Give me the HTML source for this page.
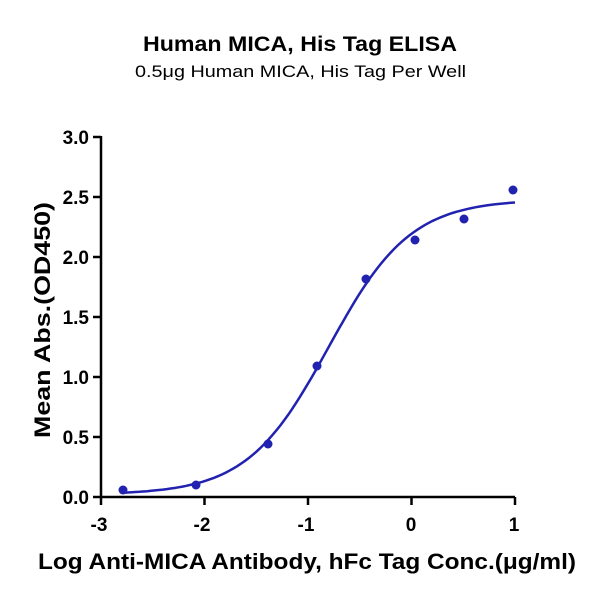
<!DOCTYPE html>
<html><head><style>
body{margin:0;background:#fff;}
svg text{font-family:"Liberation Sans",Arial,sans-serif;}
</style></head><body>
<svg id="s" width="600" height="600" xmlns="http://www.w3.org/2000/svg">
<text x="143" y="51" textLength="314" lengthAdjust="spacingAndGlyphs" font-size="21" font-weight="bold">Human MICA, His Tag ELISA</text>
<text x="135" y="77" textLength="331" lengthAdjust="spacingAndGlyphs" font-size="17">0.5μg Human MICA, His Tag Per Well</text>
<g stroke="#000" stroke-width="2.5" fill="none">
<line x1="101" y1="136" x2="101" y2="497"/>
<line x1="100" y1="497" x2="515" y2="497"/>
<line x1="93" y1="137" x2="101" y2="137"/>
<line x1="93" y1="197" x2="101" y2="197"/>
<line x1="93" y1="257" x2="101" y2="257"/>
<line x1="93" y1="317" x2="101" y2="317"/>
<line x1="93" y1="377" x2="101" y2="377"/>
<line x1="93" y1="437" x2="101" y2="437"/>
<line x1="93" y1="497" x2="101" y2="497"/>
<line x1="101" y1="497" x2="101" y2="505"/>
<line x1="204.5" y1="497" x2="204.5" y2="505"/>
<line x1="308" y1="497" x2="308" y2="505"/>
<line x1="411.5" y1="497" x2="411.5" y2="505"/>
<line x1="515" y1="497" x2="515" y2="505"/>
</g>
<g font-size="19" font-weight="bold" text-anchor="end">
<text x="89" y="144">3.0</text><text x="89" y="204">2.5</text><text x="89" y="264">2.0</text>
<text x="89" y="324">1.5</text><text x="89" y="384">1.0</text><text x="89" y="444">0.5</text><text x="89" y="504">0.0</text>
</g>
<g font-size="19" font-weight="bold" text-anchor="middle">
<text x="99" y="531">-3</text><text x="202" y="531">-2</text><text x="306" y="531">-1</text><text x="411" y="531">0</text><text x="514" y="531">1</text>
</g>
<text x="38" y="569" textLength="538" lengthAdjust="spacingAndGlyphs" font-size="22" font-weight="bold">Log Anti-MICA Antibody, hFc Tag Conc.(μg/ml)</text>
<text transform="translate(50,438) rotate(-90)" textLength="236" lengthAdjust="spacingAndGlyphs" font-size="22" font-weight="bold">Mean Abs.(OD450)</text>
<path id="c" fill="none" stroke="#2222b0" stroke-width="2.5"/>
<g fill="#2222b0">
<circle cx="123" cy="490" r="4.5"/><circle cx="196" cy="485" r="4.5"/><circle cx="268" cy="444" r="4.5"/>
<circle cx="317" cy="366" r="4.5"/><circle cx="366" cy="279" r="4.5"/><circle cx="415" cy="240" r="4.5"/>
<circle cx="464" cy="219" r="4.5"/><circle cx="513" cy="190" r="4.5"/>
</g>
</svg>
<script>
var d="";for(var i=0;i<=100;i++){var x=-2.78+3.78*i/100;var y=0.02+2.46/(1+Math.pow(10,(-0.8-x)*1.1));
var px=101+(x+3)*103.5,py=497-y*120;d+=(i?"L":"M")+px.toFixed(1)+","+py.toFixed(1);}
document.getElementById("c").setAttribute("d",d);
</script>
</body></html>
